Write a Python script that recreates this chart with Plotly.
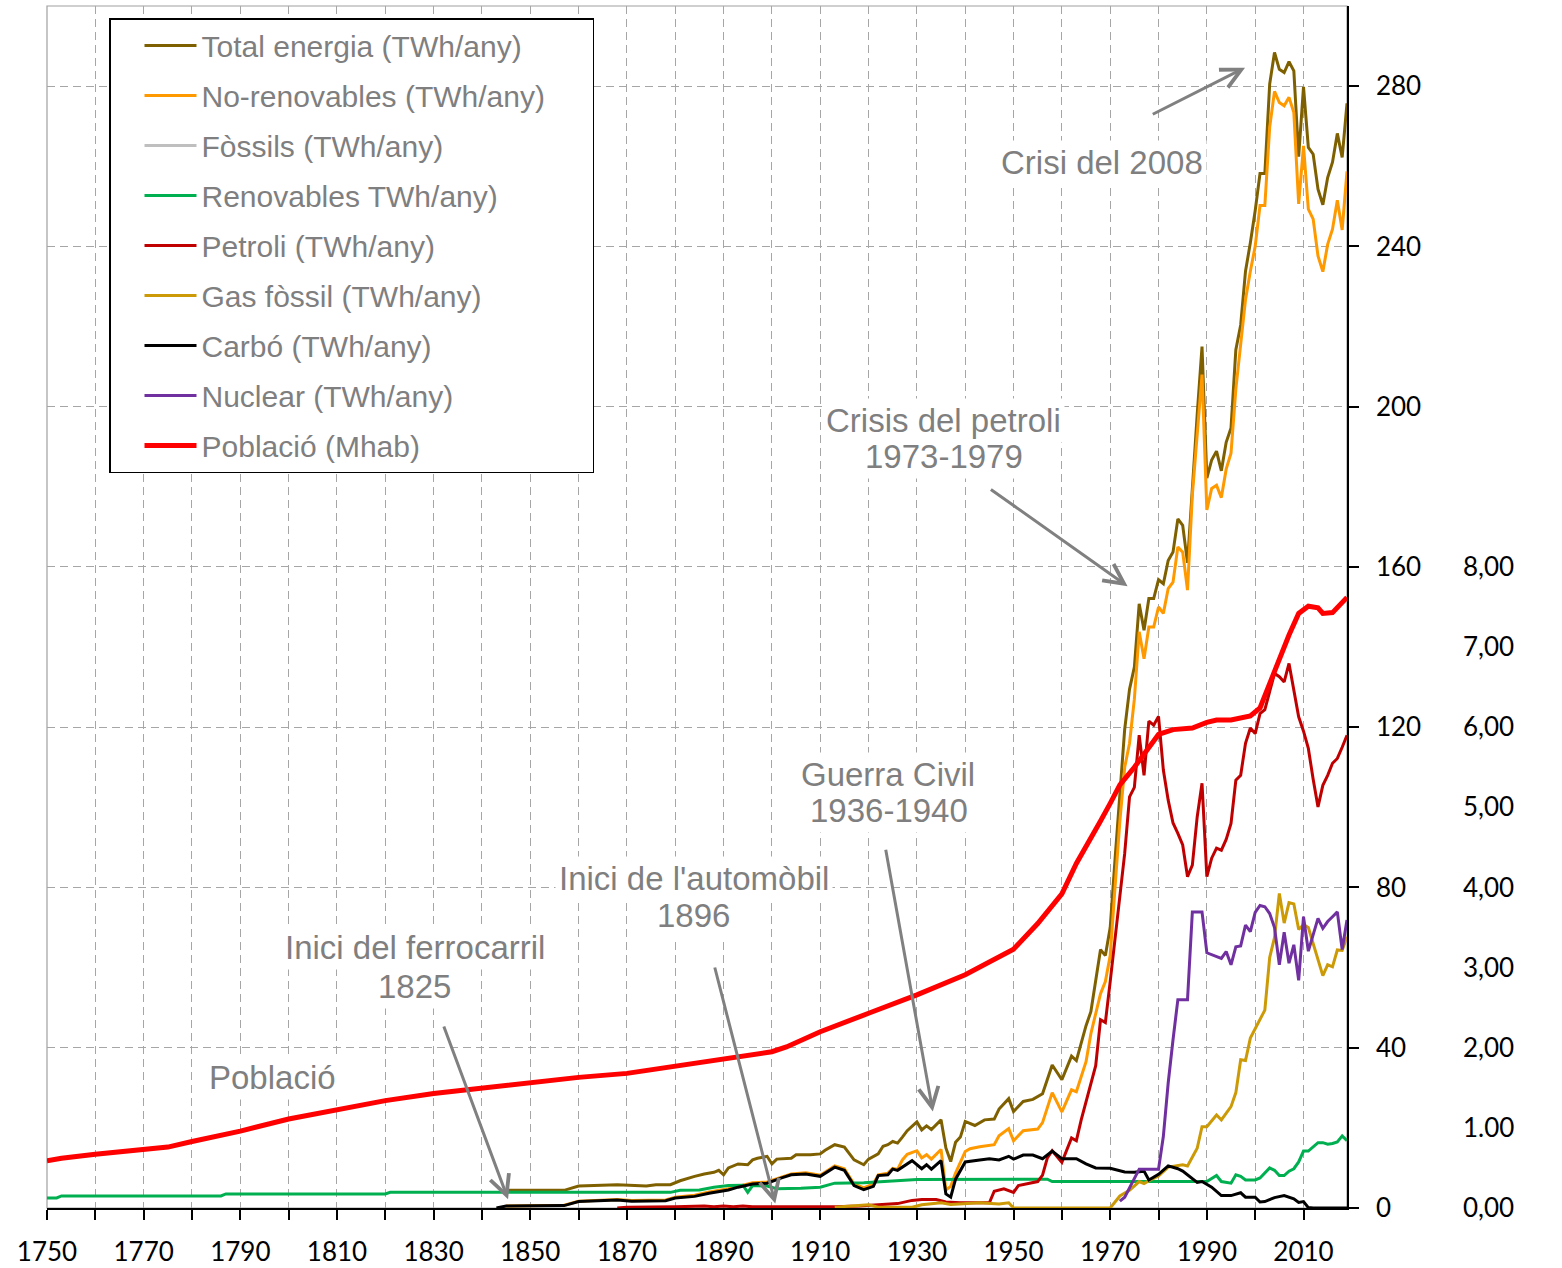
import plotly.graph_objects as go

# ---------------- data ----------------
total_years = [1845, 1857, 1860, 1868, 1874, 1876, 1879, 1881, 1884, 1886, 1888, 1889, 1890, 1891,
               1893, 1895, 1896, 1897, 1899, 1900, 1901, 1904, 1905, 1908, 1910, 1911, 1913, 1915,
               1917, 1919, 1920, 1921, 1922, 1923, 1924, 1925, 1926, 1927, 1928, 1930, 1931, 1932,
               1933, 1935, 1936, 1937, 1938, 1939, 1940, 1942, 1944, 1946, 1947, 1949, 1950, 1952,
               1954, 1956, 1958, 1960, 1962, 1963, 1965, 1966, 1968, 1969, 1970, 1971, 1972, 1973,
               1974, 1975, 1976, 1977, 1978, 1979, 1980, 1981, 1982, 1983, 1984, 1985, 1986, 1987,
               1988, 1989, 1990, 1991, 1992, 1993, 1994, 1995, 1996, 1997, 1998, 1999, 2000, 2001,
               2002, 2003, 2004, 2005, 2006, 2007, 2008, 2009, 2010, 2011, 2012, 2013, 2014, 2015,
               2016, 2017, 2018, 2019]
total_vals = [4.4, 4.4, 5.5, 5.8, 5.5, 5.8, 5.8, 6.8, 7.9, 8.5, 8.9, 9.4, 8.3, 10.0,
              11.0, 10.8, 12.0, 12.4, 12.9, 11.0, 12.2, 12.4, 13.3, 13.3, 13.5, 14.4, 15.8, 15.2,
              12.0, 10.8, 12.2, 12.8, 13.5, 15.4, 15.8, 16.6, 16.2, 17.7, 19.3, 21.5, 19.5, 20.5,
              19.6, 22.0, 15.0, 11.6, 16.4, 17.7, 21.6, 20.6, 22.0, 22.2, 24.7, 27.3, 24.1, 26.6,
              27.1, 28.5, 35.7, 32.0, 37.9, 36.8, 45.5, 49.0, 64.5, 63.0, 70.0, 87.0, 104.5, 119.5,
              129.5, 135.0, 150.8, 144.2, 152.1, 152.1, 156.8, 155.8, 161.6, 163.7, 172.0, 170.4, 161.0, 180.0,
              198.0, 215.0, 182.2, 186.7, 188.9, 184.0, 191.1, 194.7, 214.2, 220.4, 233.8, 240.9, 248.9, 258.2,
              258.2, 280.5, 288.4, 284.2, 283.4, 286.1, 283.8, 262.4, 279.8, 264.7, 263.0, 254.3, 250.4, 257.2,
              261.0, 268.2, 262.2, 275.7]

nonren_years = [1845, 1857, 1860, 1868, 1871, 1878, 1880, 1884, 1887, 1891, 1893, 1896, 1899, 1902,
                1904, 1907, 1910, 1913, 1915, 1917, 1919, 1921, 1922, 1924, 1925, 1926, 1927, 1928,
                1930, 1931, 1932, 1933, 1935, 1936, 1937, 1938, 1940, 1941, 1943, 1946, 1947, 1949,
                1950, 1952, 1955, 1956, 1958, 1960, 1962, 1963, 1965, 1966, 1968, 1969, 1970, 1971,
                1972, 1973, 1974, 1975, 1976, 1977, 1978, 1979, 1980, 1981, 1982, 1983, 1984, 1985,
                1986, 1987, 1988, 1989, 1990, 1991, 1992, 1993, 1994, 1995, 1996, 1997, 1998, 1999,
                2000, 2001, 2002, 2003, 2004, 2005, 2006, 2007, 2008, 2009, 2010, 2011, 2012, 2013,
                2014, 2015, 2016, 2017, 2018, 2019]
nonren_vals = [0.5, 0.7, 1.7, 2.1, 1.9, 2.0, 2.7, 3.2, 4.0, 4.8, 5.4, 6.3, 6.5, 7.8,
               8.5, 8.8, 8.2, 10.5, 9.8, 6.0, 5.0, 6.0, 8.3, 8.7, 9.9, 9.6, 12.0, 13.4,
               14.3, 12.5, 13.3, 12.2, 14.6, 4.5, 5.4, 8.7, 14.1, 14.8, 15.3, 15.8, 18.0, 19.8,
               16.8, 19.3, 19.7, 21.3, 28.8, 24.0, 29.5, 29.0, 36.5, 43.5, 53.5, 56.5, 63.0, 80.0,
               96.5, 110.0, 116.0, 127.0, 143.8, 137.1, 145.0, 145.0, 150.0, 148.4, 154.6, 156.2, 165.0, 163.7,
               154.2, 178.0, 193.0, 208.0, 174.2, 179.6, 180.4, 177.3, 184.4, 188.4, 204.4, 215.1, 226.7, 233.8,
               240.0, 250.2, 250.2, 269.7, 278.7, 275.9, 275.1, 277.2, 273.4, 250.6, 265.1, 249.3, 246.8, 237.6,
               233.7, 240.5, 244.3, 251.5, 244.1, 258.7]

# Fossils series: no line is visible in the reference (legend entry only)
fossil_years = [None]
fossil_vals = [None]

renew_years = [1750, 1752, 1753, 1786, 1787, 1820, 1821, 1879, 1881, 1885, 1888, 1891, 1894, 1895,
               1896, 1899, 1901, 1906, 1910, 1913, 1919, 1925, 1930, 1957, 1958, 1990, 1992, 1993,
               1995, 1996, 1997, 1998, 2000, 2001, 2003, 2004, 2005, 2006, 2007, 2008, 2009, 2010,
               2011, 2013, 2014, 2015, 2016, 2017, 2018, 2019]
renew_vals = [2.5, 2.5, 3.0, 3.0, 3.5, 3.5, 3.9, 3.9, 4.4, 4.5, 5.2, 5.6, 5.7, 3.9,
              5.6, 5.5, 4.8, 4.9, 5.2, 6.2, 6.3, 6.8, 7.1, 7.2, 6.6, 6.6, 8.1, 6.6,
              6.2, 8.3, 7.9, 7.0, 7.0, 7.5, 10.0, 9.4, 8.1, 8.1, 9.2, 9.8, 11.5, 14.2,
              14.2, 16.3, 16.3, 15.9, 16.1, 16.5, 18.0, 16.8]

oil_years = [1868, 1870, 1880, 1886, 1888, 1890, 1892, 1894, 1896, 1913, 1918, 1920, 1922, 1926,
             1929, 1931, 1934, 1936, 1939, 1945, 1946, 1948, 1950, 1951, 1953, 1955, 1956, 1957,
             1958, 1960, 1962, 1963, 1964, 1965, 1967, 1968, 1969, 1970, 1972, 1973, 1974, 1975,
             1976, 1977, 1978, 1979, 1980, 1981, 1982, 1983, 1984, 1985, 1986, 1987, 1988, 1989,
             1990, 1991, 1992, 1993, 1994, 1995, 1996, 1997, 1998, 1999, 2000, 2001, 2002, 2003,
             2004, 2005, 2006, 2007, 2008, 2009, 2010, 2011, 2012, 2013, 2014, 2015, 2016, 2017,
             2018, 2019]
oil_vals = [0.0, 0.2, 0.3, 0.5, 0.3, 0.5, 0.3, 0.5, 0.3, 0.3, 0.5, 0.7, 0.8, 1.1,
            1.9, 2.1, 2.1, 1.5, 1.3, 1.3, 4.2, 4.8, 3.9, 5.6, 6.1, 6.6, 8.2, 12.5,
            14.3, 11.4, 17.5, 16.8, 22.0, 26.5, 35.5, 47.0, 46.3, 56.5, 77.0, 88.5, 102.6, 105.0,
            118.0, 108.0, 121.5, 120.5, 122.7, 109.3, 101.8, 96.1, 93.5, 90.6, 82.7, 85.6, 97.6, 106.0,
            82.7, 87.3, 89.8, 89.3, 92.0, 96.0, 106.8, 108.0, 116.0, 119.8, 118.4, 123.4, 124.4, 129.0,
            133.4, 132.6, 131.3, 135.9, 129.0, 122.6, 119.0, 114.7, 107.0, 100.1, 105.5, 108.0, 111.0, 112.2,
            115.0, 118.0]

gas_years = [1913, 1917, 1920, 1922, 1929, 1931, 1935, 1937, 1943, 1947, 1949, 1950, 1970, 1972,
             1974, 1976, 1977, 1978, 1980, 1982, 1985, 1986, 1988, 1989, 1990, 1992, 1993, 1995,
             1996, 1997, 1998, 1999, 2000, 2002, 2003, 2004, 2005, 2006, 2007, 2008, 2009, 2010,
             2011, 2012, 2013, 2014, 2015, 2016, 2017, 2018, 2019]
gas_vals = [0.2, 0.5, 0.8, 0.2, 0.2, 0.8, 1.3, 0.9, 1.3, 1.0, 1.3, 0.0, 0.0, 3.0,
            4.4, 6.6, 6.1, 6.8, 8.0, 10.2, 10.8, 10.5, 14.9, 20.3, 20.3, 23.2, 22.0, 25.3,
            28.8, 37.0, 36.8, 42.4, 44.8, 49.4, 62.5, 67.5, 78.5, 71.1, 76.2, 75.9, 69.5, 70.7,
            70.0, 66.0, 62.0, 58.0, 60.7, 60.2, 64.4, 64.3, 67.7]

coal_years = [1843, 1845, 1857, 1860, 1868, 1871, 1878, 1880, 1884, 1887, 1891, 1893, 1896, 1899,
              1902, 1904, 1907, 1910, 1913, 1915, 1917, 1919, 1921, 1922, 1924, 1925, 1926, 1929,
              1931, 1932, 1933, 1935, 1936, 1937, 1938, 1939, 1940, 1943, 1945, 1947, 1949, 1950,
              1952, 1954, 1956, 1958, 1960, 1963, 1965, 1967, 1970, 1973, 1975, 1977, 1978, 1980,
              1982, 1984, 1985, 1988, 1989, 1991, 1993, 1995, 1997, 1998, 2000, 2001, 2002, 2004,
              2006, 2008, 2009, 2010, 2011, 2012, 2019]
coal_vals = [0.0, 0.5, 0.6, 1.6, 2.0, 1.7, 1.8, 2.5, 2.9, 3.7, 4.5, 5.2, 6.0, 6.2,
             7.5, 8.3, 8.5, 7.9, 10.2, 9.4, 5.6, 4.6, 5.4, 8.1, 8.3, 9.7, 9.4, 11.8,
             9.8, 10.8, 9.7, 11.8, 3.5, 2.7, 7.2, 9.5, 11.5, 12.0, 12.3, 12.0, 12.9, 12.2,
             13.2, 13.2, 12.3, 14.2, 12.3, 12.3, 11.0, 10.0, 9.9, 9.0, 8.9, 9.2, 7.0, 8.4,
             10.5, 9.8, 9.2, 6.4, 6.6, 5.2, 3.1, 3.1, 3.8, 2.7, 2.7, 1.5, 1.6, 2.6,
             3.1, 2.3, 1.4, 1.6, 0.1, 0.0, 0.0]

nuc_years = [1972, 1973, 1976, 1980, 1981, 1982, 1983, 1984, 1986, 1987, 1989, 1990, 1993, 1994,
             1995, 1996, 1997, 1998, 1999, 2000, 2001, 2002, 2003, 2004, 2005, 2006, 2007, 2008,
             2009, 2010, 2011, 2012, 2013, 2014, 2015, 2016, 2017, 2018, 2019]
nuc_vals = [1.7, 2.7, 9.7, 9.7, 17.9, 31.2, 42.0, 52.0, 52.0, 73.9, 73.9, 63.7, 62.3, 64.0,
            60.7, 65.2, 65.4, 70.6, 69.0, 73.8, 75.5, 75.2, 73.5, 70.0, 60.7, 68.8, 61.1, 65.7,
            56.8, 72.7, 64.1, 68.0, 72.3, 69.8, 71.5, 72.7, 73.9, 64.5, 71.9]

pop_years = [1750, 1753, 1760, 1770, 1775, 1780, 1790, 1800, 1810, 1820, 1830, 1840, 1850, 1860,
             1870, 1880, 1890, 1900, 1903, 1910, 1920, 1930, 1940, 1950, 1955, 1960, 1963, 1965,
             1968, 1970, 1972, 1975, 1978, 1980, 1983, 1987, 1990, 1992, 1995, 1999, 2001, 2003,
             2005, 2007, 2009, 2011, 2013, 2014, 2016, 2018, 2019]
pop_vals = [0.59, 0.62, 0.67, 0.74, 0.76, 0.83, 0.96, 1.11, 1.22, 1.34, 1.43, 1.50, 1.57, 1.63,
            1.68, 1.77, 1.87, 1.95, 2.01, 2.20, 2.43, 2.66, 2.91, 3.23, 3.55, 3.92, 4.30, 4.50,
            4.83, 5.05, 5.28, 5.50, 5.75, 5.91, 5.97, 5.99, 6.06, 6.09, 6.09, 6.14, 6.24, 6.55,
            6.85, 7.15, 7.42, 7.51, 7.49, 7.42, 7.43, 7.55, 7.62]

energy_ticks = [0, 40, 80, 120, 160, 200, 240, 280]
pop_ticks = [0, 1, 2, 3, 4, 5, 6, 7, 8]
pop_tick_text = ["0,00", "1.00", "2,00", "3,00", "4,00", "5,00", "6,00", "7,00", "8,00"]

NB = "\u00a0" * 5  # invisible padding so the legend box is as wide as in the reference
series = [
    ("Total energia (TWh/any)", total_years, total_vals, "#7f6000", 3, "y"),
    ("No-renovables (TWh/any)" + NB, nonren_years, nonren_vals, "#ff9900", 3, "y"),
    ("Fòssils (TWh/any)", fossil_years, fossil_vals, "#bfbfbf", 3, "y"),
    ("Renovables TWh/any)", renew_years, renew_vals, "#00b050", 3, "y"),
    ("Petroli (TWh/any)", oil_years, oil_vals, "#c00000", 3, "y"),
    ("Gas fòssil (TWh/any)", gas_years, gas_vals, "#cc9a06", 3, "y"),
    ("Carbó (TWh/any)", coal_years, coal_vals, "#000000", 3, "y"),
    ("Nuclear (TWh/any)", nuc_years, nuc_vals, "#7030a0", 3, "y"),
    ("Població (Mhab)", pop_years, pop_vals, "#ff0000", 5, "y2"),
]

# ---------------- figure ----------------
W, H = 1562, 1268
ML, MR, MT, MB = 47, 20, 6, 60
plot_w = W - ML - MR
plot_h = H - MT - MB
x_dom_end = 1300 / plot_w

fig = go.Figure()
for name, xs, ys, color, width, yax in series:
    fig.add_trace(go.Scatter(
        x=xs, y=ys, name=name, mode="lines", yaxis=yax,
        line=dict(color=color, width=width),
        legendgroup=name, showlegend=True, hoverinfo="skip"))

grid_color = "#a6a6a6"
tick_font = dict(family="Lato, Carlito, sans-serif", size=26, color="#000000")
ann_font = dict(family="Liberation Sans, Arial, sans-serif", size=33, color="#7f7f7f")

fig.update_layout(
    width=W, height=H,
    margin=dict(l=ML, r=MR, t=MT, b=MB, pad=0, autoexpand=False),
    paper_bgcolor="white", plot_bgcolor="white",
    showlegend=True,
    legend=dict(
        x=(109 - ML) / plot_w, y=1 - (18 - MT) / plot_h,
        xanchor="left", yanchor="top",
        bgcolor="white", bordercolor="#000000", borderwidth=1.5,
        font=dict(family="Liberation Sans, Arial, sans-serif", size=30, color="#7f7f7f"),
        tracegroupgap=8, itemwidth=52, traceorder="grouped", indentation=29,
    ),
    xaxis=dict(
        domain=[0, x_dom_end], range=[1750, 2019], automargin=False,
        tick0=1750, dtick=20, ticks="outside", ticklen=10, tickwidth=1.5, tickcolor="#000000",
        showline=True, linecolor="#000000", linewidth=1.5,
        showgrid=True, gridcolor=grid_color, griddash="8px,5px", gridwidth=1.3,
        minor=dict(dtick=10, tick0=1750, ticks="outside", ticklen=10, tickwidth=1.5,
                   tickcolor="#000000", showgrid=True, gridcolor=grid_color,
                   griddash="8px,5px", gridwidth=1.3),
        zeroline=False, tickfont=tick_font, ticklabelstandoff=10,
    ),
    yaxis=dict(
        side="right", anchor="x", range=[0, 300], automargin=False,
        tickvals=energy_ticks, ticks="outside", ticklen=10, tickwidth=1.5, tickcolor="#000000",
        showline=True, linecolor="#000000", linewidth=1.5,
        showgrid=True, gridcolor=grid_color, griddash="8px,5px", gridwidth=1.3,
        zeroline=False, tickfont=tick_font, ticklabelstandoff=12,
    ),
    yaxis2=dict(
        overlaying="y", side="right", anchor="free", position=(1462 - ML) / plot_w,
        range=[0, 15], tickvals=pop_ticks, ticktext=pop_tick_text, automargin=False,
        ticks="", showline=False, showgrid=False, zeroline=False,
        tickfont=tick_font,
    ),
)

# plot-area border (grey, top and left visible)
fig.add_shape(type="rect", xref="x domain", yref="y domain", x0=0, x1=1, y0=0, y1=1,
              line=dict(color="#a0a0a0", width=1.2), layer="below")

# second lines first so the first line's white box never hides its own descenders
texts = [
    ("Crisi del 2008", 1968.4, 260.9),
    ("1973-1979", 1935.7, 187.6),
    ("Crisis del petroli", 1935.5, 196.5),
    ("1936-1940", 1924.3, 99.3),
    ("Guerra Civil", 1924.1, 108.3),
    ("1896", 1883.8, 73.1),
    ("Inici de l'automòbil", 1883.8, 82.3),
    ("1825", 1826.1, 55.4),
    ("Inici del ferrocarril", 1826.1, 64.9),
    ("Població", 1796.7, 32.5),
]
for t, xv, yv in texts:
    fig.add_annotation(text=t, x=xv, y=yv, xref="x", yref="y", showarrow=False,
                       font=ann_font, bgcolor="white", borderpad=3,
                       xanchor="center", yanchor="middle")

arrows = [
    (1978.5, 272.8, 1997.9, 284.6),
    (1945.0, 179.6, 1973.6, 155.2),
    (1923.5, 89.8, 1933.3, 24.1),
    (1888.1, 60.4, 1900.7, 1.1),
    (1832.0, 45.7, 1845.4, 2.2),
]
for ax_, ay_, hx, hy in arrows:
    fig.add_annotation(text="", x=hx, y=hy, xref="x", yref="y",
                       ax=ax_, ay=ay_, axref="x", ayref="y",
                       showarrow=True, arrowhead=5, arrowsize=1.3, arrowwidth=3,
                       arrowcolor="#808080", standoff=0, startstandoff=0)

fig.write_html("out.html", config={"displayModeBar": False},
               post_script="document.body.style.margin='0px';")
